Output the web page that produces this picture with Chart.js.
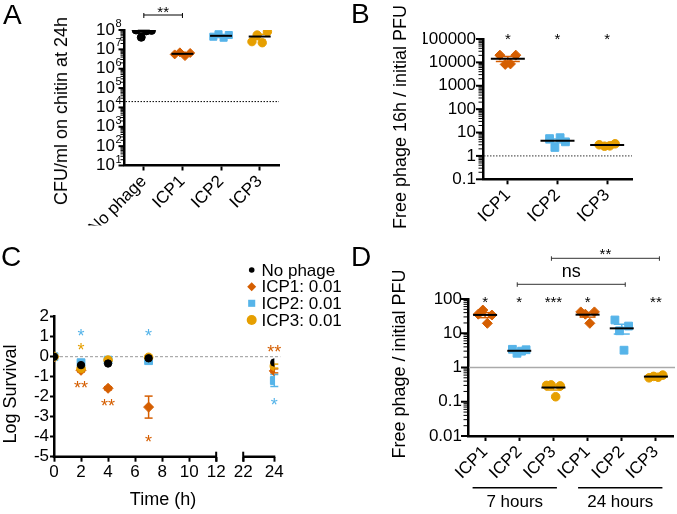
<!DOCTYPE html>
<html>
<head>
<meta charset="utf-8">
<script src="https://cdn.jsdelivr.net/npm/chart.js"></script>
<style>
html,body{margin:0;padding:0;background:#fff;}
#wrap{position:relative;width:677px;height:514px;overflow:hidden;font-family:"Liberation Sans",Arial,Helvetica,sans-serif;color:#000;}
.layer{position:absolute;left:0;top:0;width:677px;height:514px;}
.lbl{position:absolute;white-space:nowrap;line-height:1;}
.letter{font-size:28px;}
.vt{font-size:18px;transform:translate(-50%,-50%) rotate(-90deg);}
.hc{font-size:18px;transform:translate(-50%,-50%);}
</style>
</head>
<body>
<div id="wrap">
  <div class="layer"><canvas id="cA" width="677" height="514"></canvas></div>
  <div class="layer"><canvas id="cB" width="677" height="514"></canvas></div>
  <div class="layer"><canvas id="cC" width="677" height="514"></canvas></div>
  <div class="layer"><canvas id="cD" width="677" height="514"></canvas></div>
  <div class="lbl letter" style="left:3px;top:1px">A</div>
  <div class="lbl letter" style="left:351px;top:0px">B</div>
  <div class="lbl letter" style="left:1px;top:243px">C</div>
  <div class="lbl letter" style="left:351px;top:243px">D</div>
  <div class="lbl vt" style="left:61px;top:111px">CFU/ml on chitin at 24h</div>
  <div class="lbl vt" style="left:400px;top:117px">Free phage 16h / initial PFU</div>
  <div class="lbl vt" style="left:10px;top:394px">Log Survival</div>
  <div class="lbl hc" style="left:163px;top:499px">Time (h)</div>
  <div class="lbl vt" style="left:399px;top:364px">Free phage / initial PFU</div>
</div>
<script>
const FAM = '"Liberation Sans", Arial, Helvetica, sans-serif';
const BLACK = '#000000', ORANGE = '#D55E00', BLUE = '#56B4E9', YELLOW = '#E69F00';

// ---------- Panel A data ----------
const A_CATEGORIES = ['No phage', 'ICP1', 'ICP2', 'ICP3'];
const A_NO_PHAGE = [1.0e8, 4.2e7, 9.0e7, 9.5e7];
const A_ICP1 = [5.5e6, 7.0e6, 4.5e6, 6.5e6];
const A_ICP2 = [4.5e7, 6.0e7, 4.0e7, 5.5e7];
const A_ICP3 = [2.5e7, 5.5e7, 2.2e7, 8.2e7];
const A_Y_TICKS = [1e1, 1e2, 1e3, 1e4, 1e5, 1e6, 1e7, 1e8];
const A_Y_BASE = '10';
const A_Y_EXPONENTS = ['1', '2', '3', '4', '5', '6', '7', '8'];
const A_DETECTION_LIMIT = 2e4;
const A_SIGNIFICANCE = '**';

// ---------- Panel B data ----------
const B_CATEGORIES = ['ICP1', 'ICP2', 'ICP3'];
const B_ICP1 = [20400, 8200, 8600, 20400];
const B_ICP2 = [5.5, 2.3, 6.0, 4.0];
const B_ICP3 = [3.0, 2.6, 2.7, 3.3];
const B_Y_TICKS = [0.1, 1, 10, 100, 1000, 10000, 100000];
const B_Y_LABELS = ['0.1', '1', '10', '100', '1000', '10000', '100000'];
const B_SIGNIFICANCE = ['*', '*', '*'];
const B_REFERENCE = 1;

// ---------- Panel C data ----------
const C_TIMES = [0, 2, 4, 7, 24];
const C_NO_PHAGE = [0, -0.42, -0.34, -0.08, -0.29];
const C_ICP1 = [0, -0.68, -1.58, -2.52, -0.71];
const C_ICP1_ERR = [0, 0.08, 0.08, 0.55, 0.1];
const C_ICP2 = [0, -0.30, -0.17, -0.20, -1.19];
const C_ICP2_ERR = [0, 0.05, 0.05, 0.05, 0.3];
const C_ICP3 = [0, -0.59, -0.17, -0.03, -0.47];
const C_ICP3_ERR = [0, 0.08, 0.05, 0.03, 0.1];
const C_X_TICKS = [0, 2, 4, 6, 8, 10, 12, 22, 24];
const C_Y_TICKS = [-5, -4, -3, -2, -1, 0, 1, 2];
const C_LEGEND = ['No phage', 'ICP1: 0.01', 'ICP2: 0.01', 'ICP3: 0.01'];
const C_SIG_TIMES = [2, 2, 2, 4, 7, 7, 24, 24];
const C_SIG_LEVELS = [1.27, 0.56, -1.36, -2.24, 1.27, -4.03, 0.47, -2.2];
const C_SIG_TEXT = ['*', '*', '**', '**', '*', '*', '**', '*'];
const C_SIG_SERIES = ['ICP2', 'ICP3', 'ICP1', 'ICP1', 'ICP2', 'ICP1', 'ICP1', 'ICP2'];

// ---------- Panel D data ----------
const D_CATEGORIES = ['ICP1', 'ICP2', 'ICP3', 'ICP1', 'ICP2', 'ICP3'];
const D_GROUPS = ['7 hours', '24 hours'];
const D_ICP1_7H = [36, 47.6, 19.5, 34];
const D_ICP2_7H = [3.4, 2.6, 3.0, 3.3];
const D_ICP3_7H = [0.30, 0.31, 0.14, 0.29];
const D_ICP1_24H = [42, 36, 19.5, 42];
const D_ICP2_24H = [24.4, 11.8, 3.2, 16.2];
const D_ICP3_24H = [0.5, 0.55, 0.52, 0.6];
const D_Y_TICKS = [0.01, 0.1, 1, 10, 100];
const D_Y_LABELS = ['0.01', '0.1', '1', '10', '100'];
const D_SIGNIFICANCE = ['*', '*', '***', '*', '', '**'];
const D_COMPARISONS = [{ from: 1, to: 4, label: 'ns' }, { from: 2, to: 5, label: '**' }];
const D_REFERENCE = 1;

// ---------- helpers ----------
const SERIES_COLOR = { 'No phage': BLACK, ICP1: ORANGE, ICP2: BLUE, ICP3: YELLOW };
const JIT = [-1, -0.33, 0.33, 1];

function stats(v) {
  const n = v.length, m = v.reduce((a, b) => a + b, 0) / n;
  const sd = Math.sqrt(v.reduce((a, b) => a + (b - m) * (b - m), 0) / (n - 1));
  return { mean: m, sem: sd / Math.sqrt(n) };
}
function seg(ctx, x1, y1, x2, y2, w, c, dash) {
  ctx.save(); ctx.lineWidth = w; ctx.strokeStyle = c; if (dash) ctx.setLineDash(dash);
  ctx.beginPath(); ctx.moveTo(x1, y1); ctx.lineTo(x2, y2); ctx.stroke(); ctx.restore();
}
function txt(ctx, s, x, y, size, c, align, baseline) {
  ctx.save(); ctx.font = size + 'px ' + FAM; ctx.fillStyle = c;
  ctx.textAlign = align || 'center'; ctx.textBaseline = baseline || 'middle';
  ctx.fillText(s, x, y); ctx.restore();
}
function star(ctx, s, x, yc, size, c) { txt(ctx, s, x, yc + 0.58 * size, size, c, 'center', 'alphabetic'); }
function marker(ctx, style, r, x, y, c) {
  ctx.save(); ctx.fillStyle = c; ctx.beginPath();
  if (style === 'circle') ctx.arc(x, y, r, 0, Math.PI * 2);
  else if (style === 'rectRot') { ctx.moveTo(x - r, y); ctx.lineTo(x, y - r); ctx.lineTo(x + r, y); ctx.lineTo(x, y + r); ctx.closePath(); }
  else { const h = r * Math.SQRT1_2; ctx.rect(x - h, y - h, 2 * h, 2 * h); }
  ctx.fill(); ctx.restore();
}
function logTickMarks(chart, majorLen, minorLen) {
  const s = chart.scales.y, ctx = chart.ctx, x0 = chart.chartArea.left - 1;
  const e0 = Math.round(Math.log10(s.min)), e1 = Math.round(Math.log10(s.max));
  for (let e = e0; e <= e1; e++) {
    const yp = s.getPixelForValue(Math.pow(10, e));
    seg(ctx, x0 - majorLen, yp, x0, yp, 2, '#000');
    if (e < e1) for (let m = 2; m <= 9; m++) {
      const ym = s.getPixelForValue(m * Math.pow(10, e));
      seg(ctx, x0 - minorLen, ym, x0, ym, 1, '#000');
    }
  }
}
function refLine(chart, v, color, w, dash, extra) {
  const y = chart.scales.y.getPixelForValue(v), a = chart.chartArea;
  seg(chart.ctx, a.left + 1, y, a.right + (extra || 0), y, w, color, dash);
}
function padFor(area, yW, xH) {
  return { left: area.l - yW, top: area.t, right: 677 - area.r, bottom: 514 - area.b - xH };
}

function groupChart(id, P) {
  const datasets = P.groups.map((g, gi) => ({
    data: g.values.map((v, i) => ({ x: gi + JIT[i] * P.jitter, y: v })),
    pointStyle: g.style, pointRadius: g.radius, backgroundColor: g.color,
    borderColor: g.color, borderWidth: 1
  }));
  return new Chart(document.getElementById(id), {
    type: 'scatter',
    data: { datasets },
    options: {
      responsive: false, animation: false, devicePixelRatio: 1, events: [],
      layout: { autoPadding: false, padding: padFor(P.area, P.yW, P.xH) },
      plugins: { legend: { display: false }, tooltip: { enabled: false } },
      scales: {
        x: {
          type: 'linear', min: -0.5, max: P.cats.length - 0.5,
          afterBuildTicks: s => { s.ticks = P.cats.map((c, i) => ({ value: i })); },
          afterFit: s => { s.height = P.xH; },
          ticks: { autoSkip: false, minRotation: 45, maxRotation: 45, padding: 1, color: '#000',
                   font: { family: FAM, size: 17 }, callback: v => P.cats[Math.round(v)] },
          grid: { display: true, drawOnChartArea: false, drawTicks: true, tickLength: 5, tickWidth: 2, tickColor: '#000' },
          border: { display: true, color: '#000', width: 2.5 }
        },
        y: {
          type: 'logarithmic', min: P.yMin, max: P.yMax,
          afterBuildTicks: s => { s.ticks = P.yTicks.map(v => ({ value: v })); },
          afterFit: s => { s.width = P.yW; },
          ticks: { autoSkip: false, padding: P.yPad, color: '#000', font: { family: FAM, size: 17 },
                   callback: (v, i) => (P.yLabels ? P.yLabels[i] : '') },
          grid: { display: false, drawTicks: false },
          border: { display: true, color: '#000', width: 2.5 }
        }
      }
    },
    plugins: [{
      id: 'decor_' + id,
      beforeDatasetsDraw(chart) { if (P.before) P.before(chart); },
      afterDatasetsDraw(chart) {
        const xs = chart.scales.x, ys = chart.scales.y, ctx = chart.ctx;
        P.groups.forEach((g, gi) => {
          const st = stats(g.values), x = xs.getPixelForValue(gi);
          const yT = ys.getPixelForValue(st.mean + st.sem);
          const yB = ys.getPixelForValue(Math.max(st.mean - st.sem, ys.min));
          seg(ctx, x, yT, x, yB, 1.5, g.color);
          seg(ctx, x - P.cap, yT, x + P.cap, yT, 1.5, g.color);
          seg(ctx, x - P.cap, yB, x + P.cap, yB, 1.5, g.color);
          const ym = ys.getPixelForValue(st.mean);
          seg(ctx, x - P.meanHalf, ym, x + P.meanHalf, ym, 2, '#000');
        });
      },
      afterDraw(chart) {
        logTickMarks(chart, P.majorLen, P.minorLen);
        if (P.after) P.after(chart);
      }
    }]
  });
}

// ---------- Panel A ----------
groupChart('cA', {
  area: { l: 124.5, r: 279, t: 30, b: 165.5 }, yW: 40, xH: 60, yPad: 6,
  cats: A_CATEGORIES, yMin: 10, yMax: 1e8, yTicks: A_Y_TICKS, yLabels: null,
  jitter: 0.2, meanHalf: 11, cap: 6, majorLen: 5, minorLen: 3,
  groups: [
    { values: A_NO_PHAGE, color: BLACK, style: 'circle', radius: 4 },
    { values: A_ICP1, color: ORANGE, style: 'rectRot', radius: 4.5 },
    { values: A_ICP2, color: BLUE, style: 'rect', radius: 5 },
    { values: A_ICP3, color: YELLOW, style: 'circle', radius: 4.2 }
  ],
  before(chart) { refLine(chart, A_DETECTION_LIMIT, '#000', 1, [1.5, 1.5]); },
  after(chart) {
    const ctx = chart.ctx, ys = chart.scales.y, xs = chart.scales.x, xr = chart.chartArea.left - 3;
    A_Y_TICKS.forEach((v, i) => {
      const yp = ys.getPixelForValue(v);
      ctx.save(); ctx.font = '11px ' + FAM; const sw = ctx.measureText(A_Y_EXPONENTS[i]).width; ctx.restore();
      txt(ctx, A_Y_EXPONENTS[i], xr, yp - 6, 11, '#000', 'right', 'middle');
      txt(ctx, A_Y_BASE, xr - sw - 0.5, yp, 17, '#000', 'right', 'middle');
    });
    const x0 = xs.getPixelForValue(0), x1 = xs.getPixelForValue(1), yb = 15;
    seg(ctx, x0, yb, x1, yb, 1, '#000');
    seg(ctx, x0, yb - 2, x0, yb + 3, 1, '#000');
    seg(ctx, x1, yb - 2, x1, yb + 3, 1, '#000');
    star(ctx, A_SIGNIFICANCE, (x0 + x1) / 2, 8, 15, '#000');
  }
});

// ---------- Panel B ----------
groupChart('cB', {
  area: { l: 483, r: 632, t: 39, b: 179.3 }, yW: 60, xH: 60, yPad: 7,
  cats: B_CATEGORIES, yMin: 0.1, yMax: 100000, yTicks: B_Y_TICKS, yLabels: B_Y_LABELS,
  jitter: 0.16, meanHalf: 17, cap: 12, majorLen: 6, minorLen: 3.5,
  groups: [
    { values: B_ICP1, color: ORANGE, style: 'rectRot', radius: 5 },
    { values: B_ICP2, color: BLUE, style: 'rect', radius: 5.5 },
    { values: B_ICP3, color: YELLOW, style: 'circle', radius: 4.3 }
  ],
  before(chart) { refLine(chart, B_REFERENCE, '#333', 1, [1.5, 1.5]); },
  after(chart) {
    const xs = chart.scales.x;
    B_SIGNIFICANCE.forEach((s, i) => star(chart.ctx, s, xs.getPixelForValue(i), chart.chartArea.top - 4, 15, '#000'));
  }
});

// ---------- Panel C ----------
function cAxis(t) { return t <= 12 ? t : 14 + (t - 22) * 1.15; }
(function () {
  const area = { l: 54, r: 274.3, t: 316.7, b: 456.7 };
  const series = [
    { name: C_LEGEND[0], key: 'No phage', vals: C_NO_PHAGE, err: null, style: 'circle', r: 3.7, order: 0 },
    { name: C_LEGEND[1], key: 'ICP1', vals: C_ICP1, err: C_ICP1_ERR, style: 'rectRot', r: 5, order: 3 },
    { name: C_LEGEND[2], key: 'ICP2', vals: C_ICP2, err: C_ICP2_ERR, style: 'rect', r: 5.5, order: 2 },
    { name: C_LEGEND[3], key: 'ICP3', vals: C_ICP3, err: C_ICP3_ERR, style: 'circle', r: 4.3, order: 1 }
  ];
  new Chart(document.getElementById('cC'), {
    type: 'scatter',
    data: {
      datasets: series.map(s => ({
        label: s.name, order: s.order,
        data: C_TIMES.map((t, i) => ({ x: cAxis(t), y: s.vals[i] })),
        pointStyle: s.style, pointRadius: s.r, backgroundColor: SERIES_COLOR[s.key],
        borderColor: SERIES_COLOR[s.key], borderWidth: 1
      }))
    },
    options: {
      responsive: false, animation: false, devicePixelRatio: 1, events: [],
      layout: { autoPadding: false, padding: padFor(area, 30, 30) },
      plugins: { legend: { display: false }, tooltip: { enabled: false } },
      scales: {
        x: {
          type: 'linear', min: 0, max: cAxis(24),
          afterBuildTicks: s => { s.ticks = C_X_TICKS.map(t => ({ value: cAxis(t) })); },
          afterFit: s => { s.height = 30; },
          ticks: { autoSkip: false, maxRotation: 0, minRotation: 0, padding: 0, color: '#000',
                   font: { family: FAM, size: 17 }, callback: (v, i) => String(C_X_TICKS[i]) },
          grid: { display: true, drawOnChartArea: false, tickLength: 5, tickWidth: 2, tickColor: '#000' },
          border: { display: false }
        },
        y: {
          type: 'linear', min: -5, max: 2,
          afterBuildTicks: s => { s.ticks = C_Y_TICKS.map(v => ({ value: v })); },
          afterFit: s => { s.width = 30; },
          ticks: { autoSkip: false, padding: 1, color: '#000', font: { family: FAM, size: 17 },
                   callback: v => String(v) },
          grid: { display: true, drawOnChartArea: false, tickLength: 4, tickWidth: 2, tickColor: '#000' },
          border: { display: true, color: '#000', width: 2.5 }
        }
      }
    },
    plugins: [{
      id: 'decorC',
      beforeDatasetsDraw(chart) {
        const ctx = chart.ctx, xs = chart.scales.x, ys = chart.scales.y;
        refLine(chart, 0, '#999', 1, [3, 2], 6);
        series.forEach(s => {
          if (!s.err) return;
          C_TIMES.forEach((t, i) => {
            if (!s.err[i]) return;
            const x = xs.getPixelForValue(cAxis(t));
            const y1 = ys.getPixelForValue(s.vals[i] + s.err[i]), y2 = ys.getPixelForValue(s.vals[i] - s.err[i]);
            const c = SERIES_COLOR[s.key];
            seg(ctx, x, y1, x, y2, 1.5, c);
            seg(ctx, x - 4, y1, x + 4, y1, 1.5, c);
            seg(ctx, x - 4, y2, x + 4, y2, 1.5, c);
          });
        });
      },
      afterDraw(chart) {
        const ctx = chart.ctx, xs = chart.scales.x, ys = chart.scales.y, yb = chart.chartArea.bottom;
        const p0 = xs.getPixelForValue(cAxis(0)), p12 = xs.getPixelForValue(cAxis(12));
        const p22 = xs.getPixelForValue(cAxis(22)), p24 = xs.getPixelForValue(cAxis(24));
        seg(ctx, p0 - 1.25, yb, p12, yb, 2.5, '#000');
        seg(ctx, p22, yb, p24 + 1, yb, 2.5, '#000');
        seg(ctx, p12, yb - 5, p12, yb + 5, 2, '#000');
        seg(ctx, p22, yb - 5, p22, yb + 5, 2, '#000');
        C_SIG_TEXT.forEach((s, i) => {
          star(ctx, s, xs.getPixelForValue(cAxis(C_SIG_TIMES[i])), ys.getPixelForValue(C_SIG_LEVELS[i]), 18, SERIES_COLOR[C_SIG_SERIES[i]]);
        });
        const rows = [270, 286.7, 303.3, 320];
        const lr = [2.8, 4.5, 5, 5];
        series.forEach((s, i) => {
          marker(ctx, s.style, lr[i], 251.7, rows[i], SERIES_COLOR[s.key]);
          txt(ctx, s.name, 261.5, rows[i] + 1, 17, '#000', 'left', 'middle');
        });
      }
    }]
  });
})();

// ---------- Panel D ----------
groupChart('cD', {
  area: { l: 468, r: 673, t: 299, b: 436 }, yW: 50, xH: 50, yPad: 6,
  cats: D_CATEGORIES, yMin: 0.01, yMax: 100, yTicks: D_Y_TICKS, yLabels: D_Y_LABELS,
  jitter: 0.2, meanHalf: 12, cap: 8, majorLen: 6, minorLen: 3.5,
  groups: [
    { values: D_ICP1_7H, color: ORANGE, style: 'rectRot', radius: 5 },
    { values: D_ICP2_7H, color: BLUE, style: 'rect', radius: 5.5 },
    { values: D_ICP3_7H, color: YELLOW, style: 'circle', radius: 4.3 },
    { values: D_ICP1_24H, color: ORANGE, style: 'rectRot', radius: 5 },
    { values: D_ICP2_24H, color: BLUE, style: 'rect', radius: 5.5 },
    { values: D_ICP3_24H, color: YELLOW, style: 'circle', radius: 4.3 }
  ],
  before(chart) { refLine(chart, D_REFERENCE, '#aaa', 1.5, null, 2); },
  after(chart) {
    const ctx = chart.ctx, xs = chart.scales.x, a = chart.chartArea;
    const cx = i => xs.getPixelForValue(i);
    D_SIGNIFICANCE.forEach((s, i) => { if (s) star(ctx, s, cx(i), a.top - 1, 15, '#000'); });
    const levels = [a.top - 14.7, a.top - 40.7];
    const labelY = [a.top - 26.3, a.top - 49];
    D_COMPARISONS.forEach((c, k) => {
      const x1 = cx(c.from) - 2, x2 = cx(c.to) + 3.5, y = levels[k];
      seg(ctx, x1, y, x2, y, 1, '#333');
      seg(ctx, x1, y - 2, x1, y + 2.5, 1, '#333');
      seg(ctx, x2, y - 2, x2, y + 2.5, 1, '#333');
      if (c.label === 'ns') txt(ctx, c.label, (x1 + x2) / 2, labelY[k] + 4.4, 18, '#000', 'center', 'alphabetic');
      else star(ctx, c.label, (x1 + x2) / 2, labelY[k], 15, '#000');
    });
    const gl = a.bottom + 51.7, gt = a.bottom + 66.5;
    const g1 = [cx(0) - 12.5, cx(2) + 3.5], g2 = [cx(3) - 9.5, cx(5) + 6.5];
    seg(ctx, g1[0], gl, g1[1], gl, 1.5, '#000');
    seg(ctx, g2[0], gl, g2[1], gl, 1.5, '#000');
    txt(ctx, D_GROUPS[0], (g1[0] + g1[1]) / 2, gt, 17, '#000', 'center', 'middle');
    txt(ctx, D_GROUPS[1], (g2[0] + g2[1]) / 2, gt, 17, '#000', 'center', 'middle');
  }
});
</script>
</body>
</html>
